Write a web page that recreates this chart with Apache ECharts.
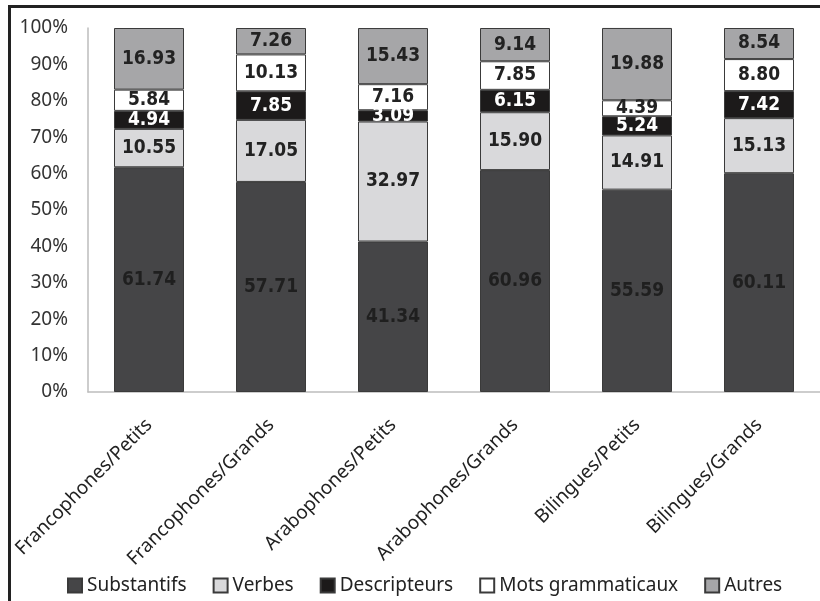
<!DOCTYPE html>
<html>
<head>
<meta charset="utf-8">
<script src="https://cdn.jsdelivr.net/npm/echarts@6/dist/echarts.min.js"></script>
<style>
  html, body { margin: 0; padding: 0; background: #fff; }
  #chart { width: 820px; height: 601px; }
</style>
</head>
<body>
<div id="chart"></div>
<script>
const categories = ["Francophones/Petits", "Francophones/Grands", "Arabophones/Petits", "Arabophones/Grands", "Bilingues/Petits", "Bilingues/Grands"];
const substantifs = [61.74, 57.71, 41.34, 60.96, 55.59, 60.11];
const verbes = [10.55, 17.05, 32.97, 15.90, 14.91, 15.13];
const descripteurs = [4.94, 7.85, 3.09, 6.15, 5.24, 7.42];
const motsGram = [5.84, 10.13, 7.16, 7.85, 4.39, 8.80];
const autres = [16.93, 7.26, 15.43, 9.14, 19.88, 8.54];

const font = "Noto Sans";

function mk(name, data, color, textColor) {
  return {
    name: name,
    type: "bar",
    stack: "all",
    barWidth: 70,
    data: data,
    itemStyle: { color: color, borderColor: "#3a3a3a", borderWidth: 1 },
    label: {
      show: true,
      position: "inside",
      formatter: (p) => p.value.toFixed(2),
      color: textColor,
      fontFamily: "DejaVu Sans Condensed",
      fontWeight: "bold",
      fontSize: 19,
    },
  };
}

const myChart = echarts.init(document.getElementById("chart"), null, { renderer: "canvas" });
myChart.setOption({
  animation: false,
  grid: { left: 88, right: -6, top: 28, bottom: 209 },
  xAxis: {
    type: "category",
    data: categories,
    axisLine: { lineStyle: { color: "#bdbdbd", width: 1.5 } },
    axisTick: { show: false },
    axisLabel: { rotate: 45, margin: 30, color: "#222", fontFamily: font, fontSize: 19 },
  },
  yAxis: {
    type: "value",
    min: 0,
    max: 100,
    interval: 10,
    axisLine: { show: true, lineStyle: { color: "#bdbdbd", width: 1.5 } },
    axisTick: { show: false },
    splitLine: { show: false },
    axisLabel: { formatter: "{value}%", margin: 20, color: "#333", fontFamily: font, fontSize: 19 },
  },
  legend: {
    bottom: 1,
    left: 62,
    itemWidth: 14,
    itemHeight: 14,
    itemGap: 26,
    icon: "rect",
    textStyle: { color: "#222", fontFamily: font, fontSize: 19 },
    data: ["Substantifs", "Verbes", "Descripteurs", "Mots grammaticaux", "Autres"],
  },
  graphic: [
    { type: "line", shape: { x1: 9.5, y1: 6, x2: 9.5, y2: 601 }, style: { stroke: "#222", lineWidth: 3 } },
    { type: "line", shape: { x1: 8, y1: 6.5, x2: 820, y2: 6.5 }, style: { stroke: "#222", lineWidth: 3 } },
  ],
  series: [
    mk("Substantifs", substantifs, "#454547", "#1f1f1f"),
    mk("Verbes", verbes, "#d9d9db", "#222"),
    mk("Descripteurs", descripteurs, "#1c1a1a", "#fff"),
    mk("Mots grammaticaux", motsGram, "#ffffff", "#222"),
    mk("Autres", autres, "#a6a6a8", "#222"),
  ],
});
</script>
</body>
</html>
